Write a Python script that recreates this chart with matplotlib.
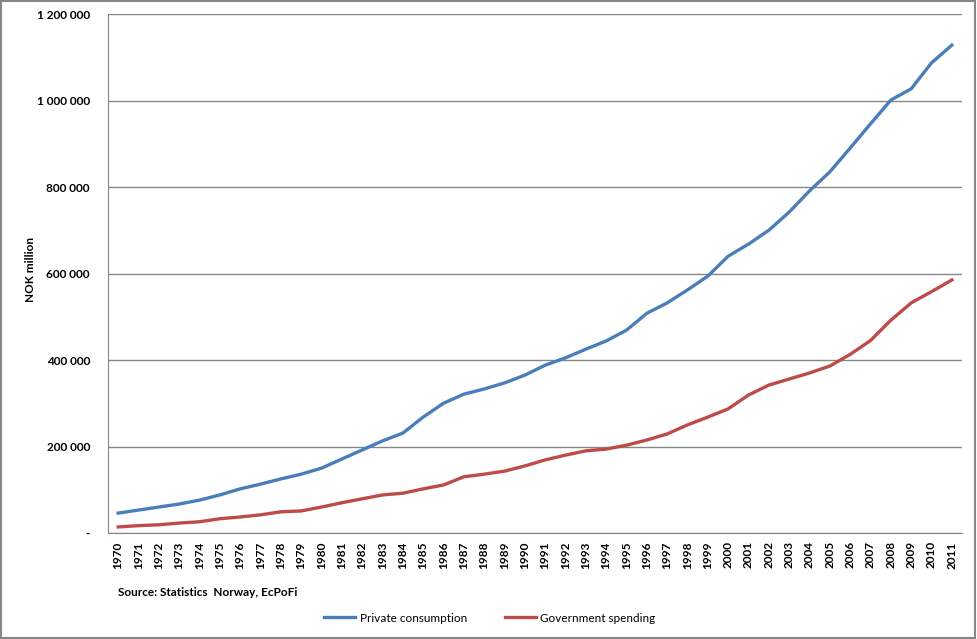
import numpy as np
from matplotlib import pyplot as plt
from matplotlib.patches import Rectangle
from matplotlib.ticker import FuncFormatter

years = list(range(1970, 2012))
private_consumption = [46, 53, 60, 67, 76, 88, 102, 113, 125, 136,
                       150, 171, 192, 213, 231, 268, 300, 321, 333, 347,
                       365, 388, 405, 425, 444, 469, 508, 532, 562, 594,
                       640, 668, 700, 742, 791, 835, 890, 946, 1001, 1027,
                       1087, 1128]
government_spending = [14, 17, 19, 23, 26, 33, 37, 42, 49, 51,
                       60, 70, 79, 88, 92, 102, 111, 130, 136, 143,
                       155, 169, 180, 190, 194, 203, 215, 229, 250, 268,
                       287, 319, 342, 356, 370, 386, 413, 445, 492, 532,
                       558, 585]
private_consumption = [v * 1000 for v in private_consumption]
government_spending = [v * 1000 for v in government_spending]

plt.rcParams['font.family'] = ['Lato', 'DejaVu Sans']

fig = plt.figure(figsize=(9.77, 6.39), dpi=100)
ax = fig.add_axes([108 / 977, 106 / 639, 854 / 977, 519 / 639])

x = np.arange(len(years))
ax.plot(x, private_consumption, color='#4A7EBB', lw=2.4, label='Private consumption')
ax.plot(x, government_spending, color='#BE4B48', lw=2.4, label='Government spending')

ax.set_xlim(-0.5, len(years) - 0.5)
ax.set_ylim(0, 1200000)
ax.set_yticks(range(0, 1200001, 200000))


def fmt(v, pos):
    if v == 0:
        return '-'
    return f"{int(v):,}".replace(',', ' ')


ax.yaxis.set_major_formatter(FuncFormatter(fmt))
ax.set_xticks(x)
ax.set_xticklabels([str(y) for y in years], rotation=90, fontsize=8.5, fontweight='bold')
for lbl in ax.get_yticklabels():
    lbl.set_fontsize(8.5)
    lbl.set_fontweight('bold')
ax.tick_params(axis='y', length=0, pad=13)
ax.tick_params(axis='x', length=0, pad=6)
ax.grid(axis='y', color='#868686', lw=1)
ax.set_axisbelow(True)
for s in ['top', 'right']:
    ax.spines[s].set_visible(False)
ax.spines['left'].set_color('#868686')
ax.spines['bottom'].set_color('#868686')

fig.text(30 / 977, 1 - 270 / 639, 'NOK million', fontsize=8.5, fontweight='bold',
         rotation=90, va='center', ha='center')

fig.text(118 / 977, 1 - 592 / 639, 'Source: Statistics  Norway, EcPoFi', fontsize=8.5,
         fontweight='bold', va='center', ha='left')

fig.legend(loc='center', bbox_to_anchor=(490 / 977, 1 - 618 / 639), ncol=2, frameon=False,
           fontsize=8.5, handlelength=2.6, handletextpad=0.4, columnspacing=3.2)

fig.patches.append(Rectangle((0.001, 0.001), 0.997, 0.997, transform=fig.transFigure,
                             fill=False, edgecolor='#868686', lw=1.5))

fig.savefig('out.png', dpi=100)
